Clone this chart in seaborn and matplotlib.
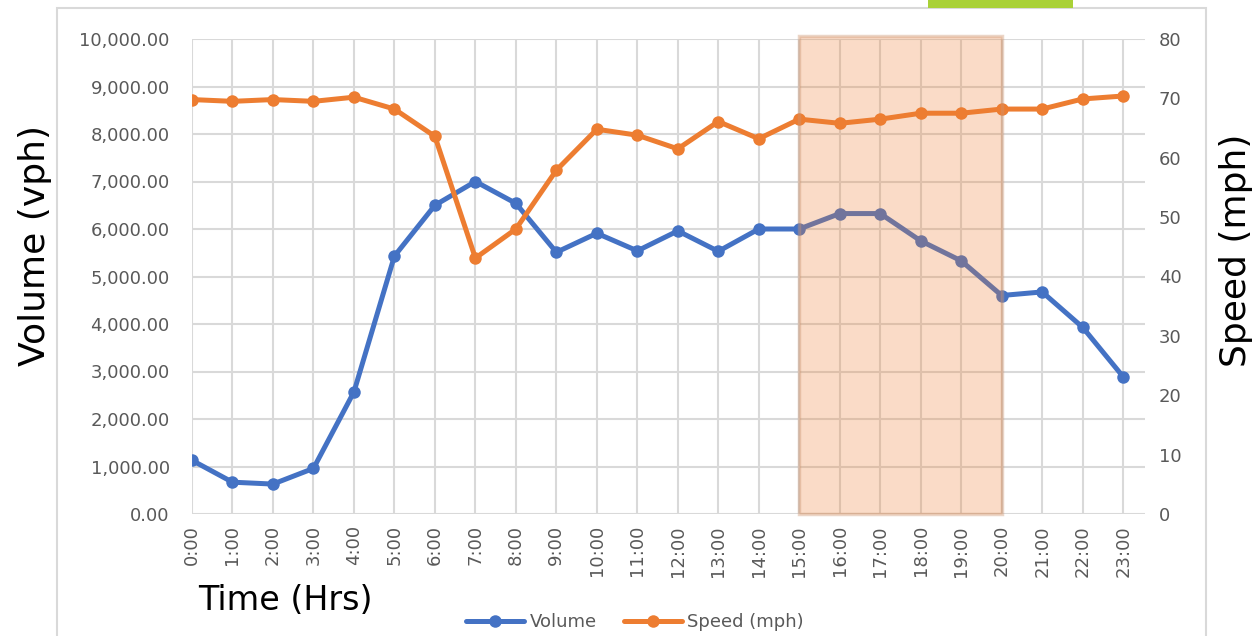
import numpy as np
import pandas as pd
import matplotlib
matplotlib.use("Agg")
import matplotlib.pyplot as plt
import seaborn as sns
from matplotlib.lines import Line2D
from matplotlib.patches import Rectangle
from matplotlib.ticker import FuncFormatter, MultipleLocator

# Data
hours = list(range(24))
hour_labels = ["{}:00".format(h) for h in hours]
volume = [1130, 670, 630, 960, 2570, 5430, 6500, 7000, 6540, 5510, 5910, 5540,
          5960, 5530, 6000, 6000, 6325, 6325, 5750, 5330, 4600, 4675, 3930, 2890]
speed = [69.8, 69.5, 69.8, 69.5, 70.2, 68.2, 63.6, 43.1, 48.0, 57.9, 64.8, 63.8,
         61.5, 66.1, 63.2, 66.5, 65.8, 66.5, 67.5, 67.5, 68.2, 68.2, 69.9, 70.4]
peak_start, peak_end = 15, 20

BLUE = "#4472C4"
ORANGE = "#ED7D31"
GRID = "#D9D9D9"
TICK = "#595959"

sns.set_style("white")
plt.rcParams["font.family"] = ["DejaVu Sans"]

df = pd.DataFrame({"hour": hours, "volume": volume, "speed": speed})

fig = plt.figure(figsize=(12.58, 6.36), dpi=100)
ax = fig.add_axes([192 / 1258, 122 / 636, (1145 - 192) / 1258, (514 - 39) / 636])
ax2 = ax.twinx()

line_kw = dict(marker="o", linewidth=3.6, markersize=9, markeredgewidth=0, legend=False)
sns.lineplot(data=df, x="hour", y="volume", ax=ax, color=BLUE, **line_kw)
sns.lineplot(data=df, x="hour", y="speed", ax=ax2, color=ORANGE, **line_kw)

# peak period shading drawn over both series
ax2.axvspan(peak_start, peak_end, ymax=1.006, clip_on=False,
            facecolor=(237 / 255, 125 / 255, 49 / 255, 0.27),
            edgecolor=(205 / 255, 150 / 255, 115 / 255, 0.4), linewidth=2.5, zorder=5)

ax.set_xlim(0, 23.54)
ax.set_ylim(0, 10000)
ax2.set_ylim(0, 80)
ax.yaxis.set_major_locator(MultipleLocator(1000))
ax2.yaxis.set_major_locator(MultipleLocator(10))
ax.yaxis.set_major_formatter(FuncFormatter(lambda v, p: "{:,.2f}".format(v)))
ax.set_xticks(hours)
ax.set_xticklabels(hour_labels, rotation=90)

ax.grid(True, color=GRID, linewidth=1.5)
ax.set_axisbelow(True)
for a in (ax, ax2):
    for s in a.spines.values():
        s.set_visible(False)
    a.set_xlabel("")
    a.set_ylabel("")

ax.tick_params(axis="y", length=0, pad=16, labelsize=13, labelcolor=TICK)
ax.tick_params(axis="x", length=0, pad=8, labelsize=13, labelcolor=TICK)
ax2.tick_params(axis="y", length=0, pad=10, labelsize=13, labelcolor=TICK)

fig.text(35 / 1258, 1 - 246 / 636, "Volume (vph)", rotation=90, fontsize=26,
         ha="center", va="center", color="black")
fig.text(1236 / 1258, 1 - 250 / 636, "Speed (mph)", rotation=90, fontsize=26,
         ha="center", va="center", color="black")
fig.text(198 / 1258, 1 - 600 / 636, "Time (Hrs)", fontsize=24,
         ha="left", va="center", color="black")

handles = [Line2D([], [], color=BLUE, marker="o", linewidth=3.6, markersize=9, markeredgewidth=0),
           Line2D([], [], color=ORANGE, marker="o", linewidth=3.6, markersize=9, markeredgewidth=0)]
fig.legend(handles, ["Volume", "Speed (mph)"], loc="center", bbox_to_anchor=(635 / 1258, 14 / 636),
           ncol=2, frameon=False, fontsize=13, handlelength=3.2, columnspacing=1.5,
           handletextpad=0.3, labelcolor=TICK)

# chart frame and the green box peeking in at the top
fig.patches.append(Rectangle((57 / 1258, -0.05), (1206 - 57) / 1258, 0.05 + 628 / 636,
                             transform=fig.transFigure, fill=False, edgecolor=GRID, linewidth=1.5))
fig.patches.append(Rectangle((928 / 1258, 628 / 636), 145 / 1258, 10 / 636,
                             transform=fig.transFigure, facecolor="#A9D137", edgecolor="none"))

fig.savefig("out.png", dpi=100)
